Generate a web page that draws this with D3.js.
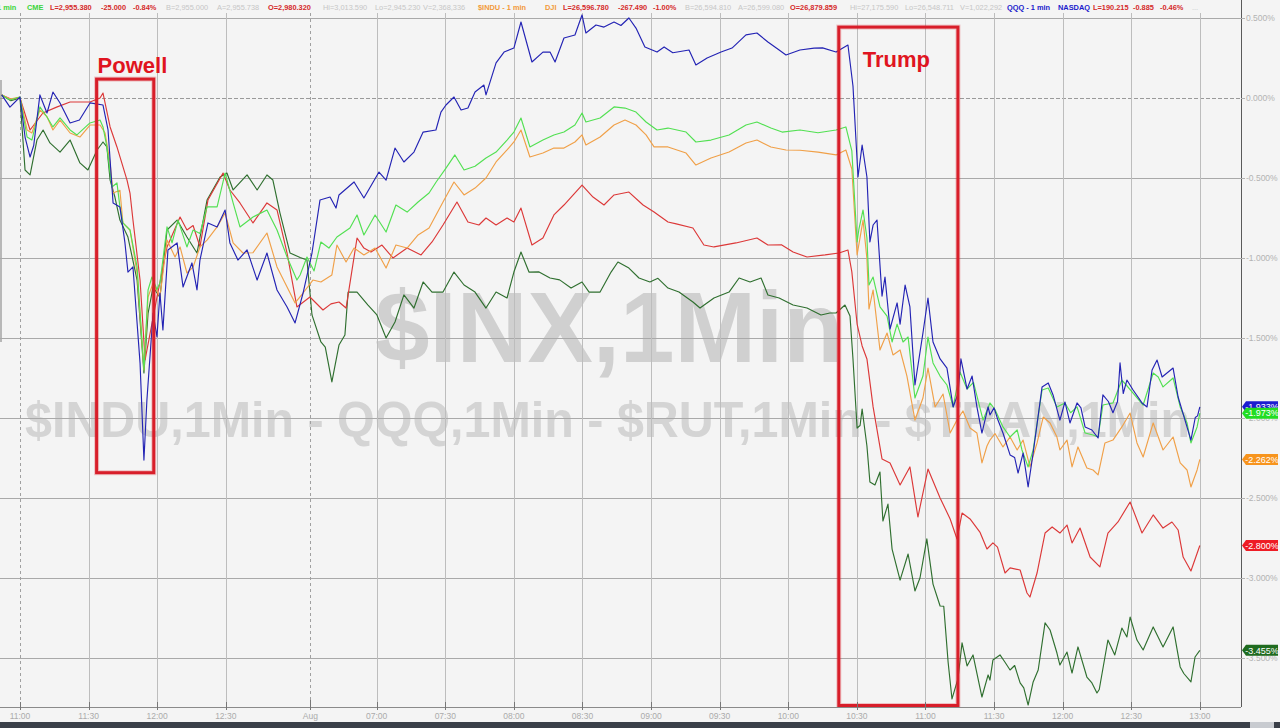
<!DOCTYPE html>
<html><head><meta charset="utf-8">
<script src="https://cdn.jsdelivr.net/npm/d3@7"></script>
<style>html,body{margin:0;padding:0;background:#f4f4f4;overflow:hidden}</style>
</head><body><svg id="c" width="1280" height="728"></svg>
<script>
// ---------- data ----------
// time axis: minutes from 11:00 (previous session); session break compressed at "Aug"
const tickTimes  = [0,30,60,90,127,156,186,216,246,276,306,336,366,396,426,456,486,516];
const tickLabels = ["11:00","11:30","12:00","12:30","Aug","07:00","07:30","08:00","08:30","09:00","09:30","10:00","10:30","11:00","11:30","12:00","12:30","13:00"];
const dashedTickIdx = [0,4];
const yTicks = [0.5,0,-0.5,-1,-1.5,-2,-2.5,-3,-3.5];

// [minute, % change]
const qqq = [[-8,0.016],[-4.4,-0.06],[0,0.003],[2.2,-0.247],[4.4,-0.372],[6,-0.3],[8.7,0.016],[11.8,-0.097],[14.4,0.034],[17.5,-0.034],[21.9,-0.159],[26,-0.141],[30.6,-0.034],[36.3,-0.047],[38.5,-0.203],[40.7,-0.659],[43.7,-0.684],[45.9,-0.909],[47.2,-1.091],[49.4,-1.059],[52.5,-1.659],[54.2,-2.266],[55.5,-1.891],[58.2,-1.347],[59.9,-1.497],[61.2,-1.222],[62.5,-1.453],[64.7,-0.953],[68.7,-0.909],[71.3,-1.184],[75.2,-1.034],[77.4,-1.203],[78.7,-1.016],[82.2,-0.784],[86.2,-0.809],[89.7,-0.703],[91.8,-0.909],[95.3,-1.016],[99.3,-0.953],[103.7,-1.141],[108,-0.972],[112.4,-1.203],[116.8,-1.309],[120.3,-1.409],[123.8,-1.222],[127.7,-0.972],[131.2,-0.641],[135.6,-0.622],[138.2,-0.691],[139.5,-0.609],[146.1,-0.528],[150.4,-0.628],[157,-0.466],[160.1,-0.516],[164,-0.316],[167.9,-0.403],[172.3,-0.341],[176.3,-0.216],[181.9,-0.203],[184.1,-0.091],[186.3,-0.047],[189.8,0.003],[192.9,-0.078],[195.9,-0.066],[199,0.034],[202.9,0.078],[203.8,0.016],[208.2,0.216],[211.7,0.284],[216,0.309],[219.1,0.472],[223.9,0.222],[228.7,0.284],[231.8,0.284],[234,0.222],[237.9,0.372],[242.7,0.391],[245.8,0.516],[247.5,0.403],[251.9,0.453],[255.4,0.44],[259.8,0.472],[262.8,0.45],[266.3,0.497],[269.4,0.434],[273.3,0.316],[278.6,0.284],[281.7,0.316],[285.5,0.28],[292.6,0.297],[295.6,0.203],[300.5,0.247],[306.6,0.284],[311.4,0.309],[317.5,0.391],[322.3,0.403],[327.1,0.347],[332,0.297],[335,0.266],[341.1,0.297],[347.3,0.309],[351,0.31],[356.9,0.284],[362.1,0.328],[364.3,0.072],[366.5,-0.497],[368.3,-0.297],[370.4,-0.497],[371.7,-0.903],[373.1,-0.797],[374.8,-0.766],[377,-1.241],[378.3,-1.122],[380.5,-1.447],[383.6,-1.284],[384.9,-1.416],[387.1,-1.172],[389.2,-1.309],[391.4,-1.797],[394.9,-1.472],[397.1,-1.253],[399.3,-1.528],[402.4,-1.634],[405.4,-1.691],[408.1,-1.934],[410.2,-1.853],[411.5,-1.634],[414.2,-1.822],[416.4,-1.741],[418.5,-1.934],[420.7,-2.097],[423.4,-1.934],[424.2,-1.984],[426,-1.94],[427.7,-2.016],[429.9,-2.097],[433,-2.234],[435,-2.25],[436.5,-2.347],[438.7,-2.222],[440.9,-2.434],[443.1,-2.222],[447,-1.809],[449.7,-1.784],[451.8,-1.859],[454.8,-2.016],[457,-1.903],[459.2,-2.034],[462.3,-1.909],[464,-1.94],[465.8,-2.059],[468.8,-2.078],[471.5,-2.128],[473.6,-1.859],[476,-1.9],[478,-1.97],[480,-1.9],[481.1,-1.659],[482.5,-1.85],[484.1,-1.766],[486.8,-1.828],[490.7,-1.909],[492.9,-1.934],[495.1,-1.703],[497.3,-1.641],[499.5,-1.747],[504.3,-1.691],[506.5,-1.872],[509.5,-2.016],[512.1,-2.141],[514,-2.0],[515,-1.99],[516,-1.933]];

const es = [[-8,0.016],[-4.4,-0.016],[0,0.003],[3.1,-0.247],[5.2,-0.266],[8.7,-0.059],[11.8,-0.122],[14.4,-0.184],[17.5,-0.128],[21.9,-0.203],[24.9,-0.234],[30.6,-0.159],[35,-0.141],[36.3,-0.184],[38,-0.309],[40.2,-0.559],[42.4,-0.534],[43.7,-0.684],[45,-0.784],[48.1,-0.828],[51.2,-1.059],[54.2,-1.703],[56,-1.203],[57.7,-1.122],[59.9,-1.2],[61.2,-1.16],[64.3,-0.809],[66.5,-0.909],[69.1,-0.766],[73,-0.934],[75.7,-0.828],[78.7,-0.85],[81.8,-0.684],[86.2,-0.684],[89.7,-0.472],[93.2,-0.659],[96.2,-0.809],[101.9,-0.747],[108,-0.703],[112.4,-0.828],[116.8,-0.997],[121.1,-1.141],[122.5,-1.109],[125.5,-0.997],[128.6,-1.084],[131.6,-0.903],[135.1,-0.941],[138.6,-0.872],[144.3,-0.816],[147.4,-0.734],[150.4,-0.859],[155.3,-0.734],[160.1,-0.841],[164.4,-0.672],[169.3,-0.716],[174.1,-0.653],[178.9,-0.597],[182,-0.528],[186.3,-0.441],[190.2,-0.359],[194.2,-0.453],[199,-0.43],[203.8,-0.378],[208.2,-0.341],[213,-0.266],[216,-0.216],[219.1,-0.128],[223,-0.309],[228.7,-0.266],[233.5,-0.234],[237.9,-0.216],[242.7,-0.172],[245.8,-0.097],[247.5,-0.153],[253.7,-0.128],[259.8,-0.059],[264.6,-0.066],[269.4,-0.091],[273.8,-0.153],[278.6,-0.203],[283.4,-0.191],[291.3,-0.216],[295.6,-0.278],[302.2,-0.266],[310.1,-0.234],[317.5,-0.172],[322.3,-0.153],[328.4,-0.191],[333.3,-0.216],[341.1,-0.203],[349,-0.22],[356.9,-0.203],[361.2,-0.184],[363.8,-0.334],[366.1,-0.903],[366.9,-0.822],[368.7,-0.703],[370.4,-0.878],[371.3,-1.172],[373.1,-1.122],[376.1,-1.309],[379.2,-1.366],[381.4,-1.528],[383.6,-1.416],[386.2,-1.528],[388.4,-1.497],[391.4,-1.878],[394.9,-1.741],[397.1,-1.497],[399.3,-1.659],[402.4,-1.741],[405.4,-1.797],[408.1,-1.934],[411.1,-1.716],[414.2,-1.822],[417,-1.78],[421.2,-2.016],[424.2,-1.909],[426.4,-1.95],[429.9,-2.059],[433,-2.122],[436.1,-2.078],[438.2,-2.203],[440.9,-2.309],[443.1,-2.203],[447,-1.828],[449.7,-1.816],[453.5,-1.934],[457,-1.909],[459.5,-1.97],[462.3,-1.934],[465.8,-2.097],[469.3,-2.109],[471.5,-2.122],[473.6,-1.922],[478,-1.909],[481.9,-1.766],[484,-1.8],[486.8,-1.847],[491.2,-1.922],[495.6,-1.722],[497.8,-1.747],[499.9,-1.809],[504.3,-1.753],[507.4,-1.934],[510.4,-2.034],[512.1,-2.159],[514.8,-2.059],[516,-1.973]];

const indu = [[-8,0.016],[-4.4,-0.01],[0,0.003],[3.1,-0.203],[5.2,-0.222],[8.7,-0.078],[11.8,-0.12],[14.4,-0.203],[17.5,-0.141],[21.9,-0.222],[26.2,-0.247],[30.6,-0.172],[35,-0.172],[37.2,-0.222],[39.4,-0.409],[40.7,-0.597],[43.7,-0.58],[45,-0.784],[48.1,-0.828],[51.2,-1.097],[54.2,-1.703],[56,-1.247],[58.2,-1.16],[61.2,-1.247],[64.3,-0.891],[67.8,-0.997],[70,-0.934],[73,-1.097],[75.7,-1.06],[78.7,-0.934],[81.8,-0.891],[86.2,-0.809],[89.7,-0.722],[93.2,-0.909],[97.5,-0.972],[101.9,-0.97],[108,-0.847],[112.4,-1.059],[116.8,-1.184],[120.3,-1.284],[123.8,-1.222],[128.1,-1.141],[131.6,-1.153],[136.4,-1.109],[138.6,-0.922],[142.6,-1.028],[146.1,-0.941],[150.4,-0.984],[155.3,-0.941],[160.1,-1.066],[164.4,-0.922],[169.3,-0.941],[174.1,-0.859],[178.9,-0.816],[185,-0.653],[189.8,-0.528],[194.2,-0.609],[199,-0.566],[203.8,-0.503],[208.2,-0.403],[213,-0.328],[216,-0.278],[219.1,-0.203],[223,-0.372],[228.7,-0.347],[233.5,-0.316],[237.9,-0.316],[242.7,-0.278],[245.8,-0.234],[247.5,-0.297],[253.7,-0.247],[259.8,-0.172],[264.6,-0.141],[269.4,-0.172],[273.8,-0.234],[277.3,-0.309],[283.4,-0.309],[291.3,-0.347],[295.6,-0.422],[302.2,-0.378],[310.1,-0.341],[317.5,-0.284],[322.3,-0.266],[328.4,-0.309],[335,-0.328],[341.1,-0.33],[349,-0.341],[356.9,-0.359],[361.2,-0.328],[363.8,-0.447],[366.1,-0.984],[368.7,-0.766],[370.4,-1.009],[371.3,-1.322],[373.1,-1.203],[376.1,-1.578],[379.2,-1.472],[381.8,-1.609],[384.9,-1.578],[387.9,-1.741],[391.4,-2.016],[394.9,-1.878],[397.1,-1.691],[400.2,-1.934],[403.7,-1.853],[406.8,-2.097],[409.8,-2.016],[412.4,-1.959],[415.5,-2.066],[418.5,-2.097],[420.7,-2.284],[422.9,-2.178],[424.2,-2.141],[426.4,-2.1],[429.9,-2.184],[433,-2.122],[436.1,-2.203],[438.7,-2.141],[441.7,-2.309],[444.8,-2.159],[447.5,-1.997],[450.5,-2.034],[453.5,-2.122],[454.8,-2.203],[457.9,-2.141],[460.1,-2.309],[462.7,-2.184],[466.6,-2.316],[469.3,-2.328],[471.5,-2.359],[474.5,-2.159],[478,-2.141],[481.9,-2.059],[485.5,-1.972],[488.5,-2.159],[491.2,-2.247],[495.6,-2.034],[499.9,-2.203],[504.3,-2.122],[507.4,-2.284],[510.4,-2.328],[512.1,-2.434],[514.8,-2.328],[516,-2.262]];

const rut = [[-8,0.015],[-4,-0.01],[0,-0.003],[4.4,-0.203],[10,-0.097],[16,-0.06],[21.9,-0.028],[30.6,-0.028],[35,-0.003],[36.3,0.028],[39.4,-0.184],[42.4,-0.309],[46.8,-0.516],[48.1,-0.597],[49.4,-0.766],[52.5,-1.141],[54.7,-1.64],[59.9,-1.247],[64.3,-0.934],[70,-0.747],[73,-0.828],[75.7,-0.8],[78.7,-0.934],[82.2,-0.641],[88.8,-0.472],[91.8,-0.578],[96.2,-0.659],[101.9,-0.784],[108,-0.659],[112.4,-0.703],[116.8,-0.972],[121.1,-1.309],[126.8,-1.247],[132.5,-1.328],[136,-1.29],[139.5,-1.278],[142.6,-1.316],[147.4,-0.878],[150.4,-0.941],[153.5,-0.966],[158.3,-0.922],[163.1,-1.003],[169.3,-0.941],[175.4,-0.984],[180.2,-0.903],[185,-0.797],[191.1,-0.653],[195.9,-0.778],[200.7,-0.797],[203.8,-0.753],[208.2,-0.797],[213,-0.753],[216,-0.778],[219.1,-0.691],[223.9,-0.922],[228.7,-0.878],[233.5,-0.734],[237.9,-0.672],[245.8,-0.547],[250.6,-0.622],[255.4,-0.672],[259.8,-0.609],[266.3,-0.591],[272.5,-0.672],[277.3,-0.716],[283.4,-0.778],[287,-0.79],[294.3,-0.816],[299.1,-0.922],[303.5,-0.934],[313.1,-0.909],[322.3,-0.878],[327.1,-0.922],[333,-0.92],[338.1,-0.966],[344.2,-0.997],[352.1,-0.984],[358.2,-0.972],[362.1,-0.953],[363.8,-1.09],[366.1,-1.416],[368.3,-1.553],[370.4,-1.634],[373.1,-1.934],[377,-2.259],[380.5,-2.284],[384.9,-2.422],[389.2,-2.309],[392.7,-2.622],[397.1,-2.322],[402.4,-2.503],[406.8,-2.634],[409.8,-2.759],[412,-2.597],[415.5,-2.634],[419.8,-2.716],[422.9,-2.822],[425.5,-2.784],[427.5,-2.81],[430.8,-2.972],[433,-2.94],[437.4,-2.953],[440.4,-3.097],[441.7,-3.122],[444.8,-2.972],[448.3,-2.722],[451.4,-2.684],[454.8,-2.722],[457.9,-2.672],[460.1,-2.784],[463.6,-2.691],[468,-2.872],[472.3,-2.934],[475.8,-2.722],[480.2,-2.653],[485.5,-2.528],[490.7,-2.722],[495.6,-2.609],[499.9,-2.691],[503.8,-2.653],[506.5,-2.703],[508.7,-2.872],[512.1,-2.959],[516,-2.8]];

const tran = [[-8,0.016],[-4,-0.02],[0,-0.003],[2.2,-0.453],[4.4,-0.484],[7.4,-0.266],[10.1,-0.203],[13.1,-0.284],[17.5,-0.341],[21.9,-0.266],[26.2,-0.409],[29.7,-0.453],[33.7,-0.328],[36.3,-0.278],[38,-0.309],[39.4,-0.516],[41.5,-0.622],[43.7,-0.766],[47.2,-0.872],[51.2,-1.141],[54.2,-1.722],[56,-1.35],[58.2,-1.184],[61.2,-1.25],[64.3,-0.828],[68.7,-0.766],[73,-0.872],[77.4,-0.972],[81.8,-0.641],[87.5,-0.497],[90.5,-0.472],[93.2,-0.578],[99.3,-0.484],[103.7,-0.578],[108,-0.484],[110.6,-0.516],[113.7,-0.722],[118.1,-0.972],[122.5,-1.0],[125.5,-1.016],[127.7,-1.359],[131.6,-1.528],[133.5,-1.56],[136.4,-1.778],[139.5,-1.547],[142.1,-1.484],[143.5,-1.216],[147.4,-1.216],[152.2,-1.297],[156.1,-1.359],[160.1,-1.503],[164,-1.403],[167.9,-1.234],[172.3,-1.316],[176.3,-1.153],[180.2,-1.216],[185,-1.216],[189.8,-1.091],[194.2,-1.172],[199,-1.216],[203.8,-1.316],[208.2,-1.216],[213,-1.253],[216,-1.091],[219.1,-0.966],[222.6,-1.091],[227,-1.09],[231.8,-1.128],[236,-1.14],[241,-1.191],[245.8,-1.153],[248.9,-1.216],[253.7,-1.216],[258.5,-1.091],[261.5,-1.028],[266.3,-1.066],[270.7,-1.128],[275.5,-1.153],[279,-1.13],[283.4,-1.191],[288.2,-1.216],[294.3,-1.278],[297.4,-1.316],[303.5,-1.253],[310.1,-1.216],[314.5,-1.128],[319.3,-1.153],[324.1,-1.128],[327.1,-1.234],[332,-1.253],[338.1,-1.297],[344.2,-1.316],[350.3,-1.359],[354.2,-1.347],[356.9,-1.347],[360.8,-1.297],[363,-1.366],[364.3,-1.634],[366.1,-2.066],[367.4,-2.05],[368.3,-1.947],[370.4,-2.178],[371.7,-2.403],[373.9,-2.422],[376.1,-2.341],[377.4,-2.647],[379.6,-2.541],[381.4,-2.822],[384.9,-3.016],[388.4,-2.853],[391.4,-3.084],[393.6,-3.003],[396.6,-2.759],[399.3,-3.041],[402.4,-3.178],[404,-3.18],[405.9,-3.528],[407.6,-3.759],[410.2,-3.634],[412,-3.409],[414.2,-3.553],[416.8,-3.484],[420.7,-3.747],[423.4,-3.609],[424.2,-3.641],[425.5,-3.516],[428.6,-3.484],[430.8,-3.53],[433,-3.578],[435,-3.55],[437.4,-3.659],[439,-3.69],[440.9,-3.797],[443.1,-3.653],[445.3,-3.578],[448.3,-3.284],[450.5,-3.328],[453.5,-3.472],[454.8,-3.547],[457.9,-3.466],[460.1,-3.597],[462.7,-3.434],[466.6,-3.622],[468.8,-3.659],[471,-3.722],[472,-3.7],[474.5,-3.497],[475.8,-3.391],[478.8,-3.484],[481.9,-3.316],[484.1,-3.372],[485.5,-3.247],[488.5,-3.391],[491.2,-3.453],[495.6,-3.309],[499.9,-3.434],[504.3,-3.309],[507.4,-3.559],[509,-3.6],[512.1,-3.653],[513.9,-3.497],[516,-3.455]];

const seriesNames  = ["$TRAN","$RUT","$INDU","CME","QQQ"];
const seriesData   = [tran, rut, indu, es, qqq];
const seriesColors = ["#2f6f2f","#dc3838","#f0a048","#52e052","#2323b4"];
const labelColors  = ["#1f6b1f","#ee1c25","#f7941d","#22dd22","#1c1cd0"];
const labelOrder   = [4,3,2,1,0]; // draw order of right-edge value tags

const annotations = [
  {text:"Powell", t0:33.5, t1:58.5, v0:0.115, v1:-2.345},
  {text:"Trump",  t0:358.1, t1:410.2, v0:0.44, v1:-3.8}
];

const headerItems = [
  ["1 min",-3,"#3ad43a",1],["CME",27,"#3ad43a",1],["L=2,955.380",50,"#d42a2a",1],["-25.000",101,"#d42a2a",1],["-0.84%",133,"#d42a2a",1],
  ["B=2,955.000",166,"#c6c6c6",0],["A=2,955.738",217,"#c6c6c6",0],["O=2,980.320",268,"#d42a2a",1],["Hi=3,013.590",323,"#c6c6c6",0],["Lo=2,945.230",375,"#c6c6c6",0],
  ["V=2,368,336",423,"#c6c6c6",0],["$INDU - 1 min",478,"#f29a3a",1],["DJI",545,"#f29a3a",1],["L=26,596.780",563,"#d42a2a",1],["-267.490",618,"#d42a2a",1],["-1.00%",653,"#d42a2a",1],
  ["B=26,594.810",685,"#c6c6c6",0],["A=26,599.080",738,"#c6c6c6",0],["O=26,879.859",790,"#d42a2a",1],["Hi=27,175.590",850,"#c6c6c6",0],["Lo=26,548.711",905,"#c6c6c6",0],
  ["V=1,022,292",960,"#c6c6c6",0],["QQQ - 1 min",1007,"#1a1acc",1],["NASDAQ",1058,"#1a1acc",1],["L=190.215",1093,"#d42a2a",1],["-0.885",1133,"#d42a2a",1],["-0.46%",1160,"#d42a2a",1],["...",1192,"#c6c6c6",0]
];

// ---------- drawing ----------
const W = 1280, H = 728, axisX = 1241, axisY = 707;
const svg = d3.select("#c");
const FONT = "'Liberation Sans', Arial, sans-serif";

const x = d3.scaleLinear().domain([-8.75, 534]).range([0, axisX]);
const y = d3.scaleLinear().domain([0, -4]).range([97.5, 737.5]);

svg.append("rect").attr("width",W).attr("height",H).attr("fill","#f4f4f4");

// left scroll shadow
svg.append("rect").attr("x",0).attr("y",80).attr("width",2).attr("height",262).attr("fill","#b8b8b8");

// watermark texts
svg.append("text").attr("x",375).attr("y",362).attr("font-family",FONT).attr("font-weight","bold")
  .attr("font-size",100).attr("fill","#d0d0d0").attr("textLength",468).attr("lengthAdjust","spacingAndGlyphs")
  .text("$INX,1Min");
svg.append("text").attr("x",25).attr("y",437).attr("font-family",FONT).attr("font-weight","bold")
  .attr("font-size",50).attr("fill","#d4d4d4").attr("textLength",1165).attr("lengthAdjust","spacingAndGlyphs")
  .text("$INDU,1Min - QQQ,1Min - $RUT,1Min - $TRAN,1Min");

// grid
const grid = svg.append("g");
grid.selectAll("line.h").data(yTicks).join("line")
  .attr("x1",0).attr("x2",axisX).attr("y1",d=>Math.round(y(d))+0.5).attr("y2",d=>Math.round(y(d))+0.5)
  .attr("stroke", d=>d===0?"#9a9a9a":"#a9a9a9").attr("stroke-width",1)
  .attr("stroke-dasharray", d=>d===0?"4,2":null);
grid.selectAll("line.v").data(tickTimes).join("line")
  .attr("x1",d=>Math.round(x(d))+0.5).attr("x2",d=>Math.round(x(d))+0.5).attr("y1",13).attr("y2",axisY)
  .attr("stroke",(d,i)=>dashedTickIdx.includes(i)?"#a0a0a0":"#bdbdbd").attr("stroke-width",1)
  .attr("stroke-dasharray",(d,i)=>dashedTickIdx.includes(i)?"3,3":null);

// lines
const line = d3.line().x(d=>x(d[0])).y(d=>y(d[1]));
svg.append("g").selectAll("path").data(seriesData).join("path")
  .attr("d",line).attr("fill","none").attr("stroke",(d,i)=>seriesColors[i])
  .attr("stroke-width",1.15).attr("stroke-linejoin","round");

// annotation boxes
annotations.forEach(a=>{
  const x0=x(a.t0), x1=x(a.t1), y0=y(a.v0), y1=y(a.v1);
  svg.append("rect").attr("x",x0).attr("y",y0).attr("width",x1-x0).attr("height",y1-y0)
    .attr("fill","none").attr("stroke","rgba(220,40,50,0.25)").attr("stroke-width",5);
  svg.append("rect").attr("x",x0).attr("y",y0).attr("width",x1-x0).attr("height",y1-y0)
    .attr("fill","none").attr("stroke","#d81e2a").attr("stroke-width",3);
});
svg.append("text").attr("x",x(annotations[0].t0)+1).attr("y",73).attr("font-family",FONT).attr("font-weight","bold")
  .attr("font-size",22).attr("fill","#e01420").text(annotations[0].text);
svg.append("text").attr("x",x(annotations[1].t0)+24).attr("y",67).attr("font-family",FONT).attr("font-weight","bold")
  .attr("font-size",22).attr("fill","#e01420").text(annotations[1].text);

// x axis
svg.append("line").attr("x1",0).attr("x2",axisX).attr("y1",axisY+0.5).attr("y2",axisY+0.5).attr("stroke","#8a8a8a");
svg.append("g").selectAll("line").data(tickTimes).join("line")
  .attr("x1",d=>Math.round(x(d))+0.5).attr("x2",d=>Math.round(x(d))+0.5)
  .attr("y1",(d,i)=>i===4?700:702).attr("y2",axisY+3).attr("stroke","#777");
svg.append("g").selectAll("text").data(tickLabels).join("text")
  .attr("x",(d,i)=>x(tickTimes[i])).attr("y",719).attr("text-anchor","middle")
  .attr("font-family",FONT).attr("font-size",8.5).attr("fill","#ababab").text(d=>d);

// right axis
svg.append("line").attr("x1",axisX+0.5).attr("x2",axisX+0.5).attr("y1",0).attr("y2",axisY)
  .attr("stroke","#5a5a5a");
const fmt = v => (v===0?"0.000":v.toFixed(3))+"%";
const yAx = svg.append("g");
yAx.selectAll("line").data(yTicks).join("line")
  .attr("x1",axisX).attr("x2",axisX+4).attr("y1",d=>Math.round(y(d))+0.5).attr("y2",d=>Math.round(y(d))+0.5)
  .attr("stroke","#b0b0b0");
yAx.selectAll("text").data(yTicks).join("text")
  .attr("x",axisX+5).attr("y",d=>y(d)+3).attr("font-family",FONT).attr("font-size",8.5)
  .attr("fill","#b3b3b3").text(fmt);

// right-edge value tags
const tags = svg.append("g");
labelOrder.forEach(i=>{
  const last = seriesData[i][seriesData[i].length-1];
  const cy = y(last[1]);
  const x0 = axisX+1, x1 = 1278, h = 5.5;
  tags.append("path").attr("d",`M${x0},${cy} L${x0+4},${cy-h} L${x1},${cy-h} L${x1},${cy+h} L${x0+4},${cy+h} Z`)
    .attr("fill",labelColors[i]);
  tags.append("text").attr("x",(x0+x1)/2+2).attr("y",cy+3.3).attr("text-anchor","middle")
    .attr("font-family",FONT).attr("font-size",9).attr("fill","#ffffff").text(fmt(last[1]));
});

// header
svg.append("g").selectAll("text").data(headerItems).join("text")
  .attr("x",d=>d[1]).attr("y",10).attr("font-family",FONT).attr("font-size",7.4)
  .attr("font-weight",d=>d[3]?"bold":"normal").attr("fill",d=>d[2]).text(d=>d[0]);

// bottom bar
svg.append("rect").attr("x",0).attr("y",722).attr("width",W).attr("height",6).attr("fill","#3a3f48");
svg.append("rect").attr("x",1250).attr("y",722).attr("width",24).attr("height",6).attr("fill","#c8cbd0");
</script></body></html>
